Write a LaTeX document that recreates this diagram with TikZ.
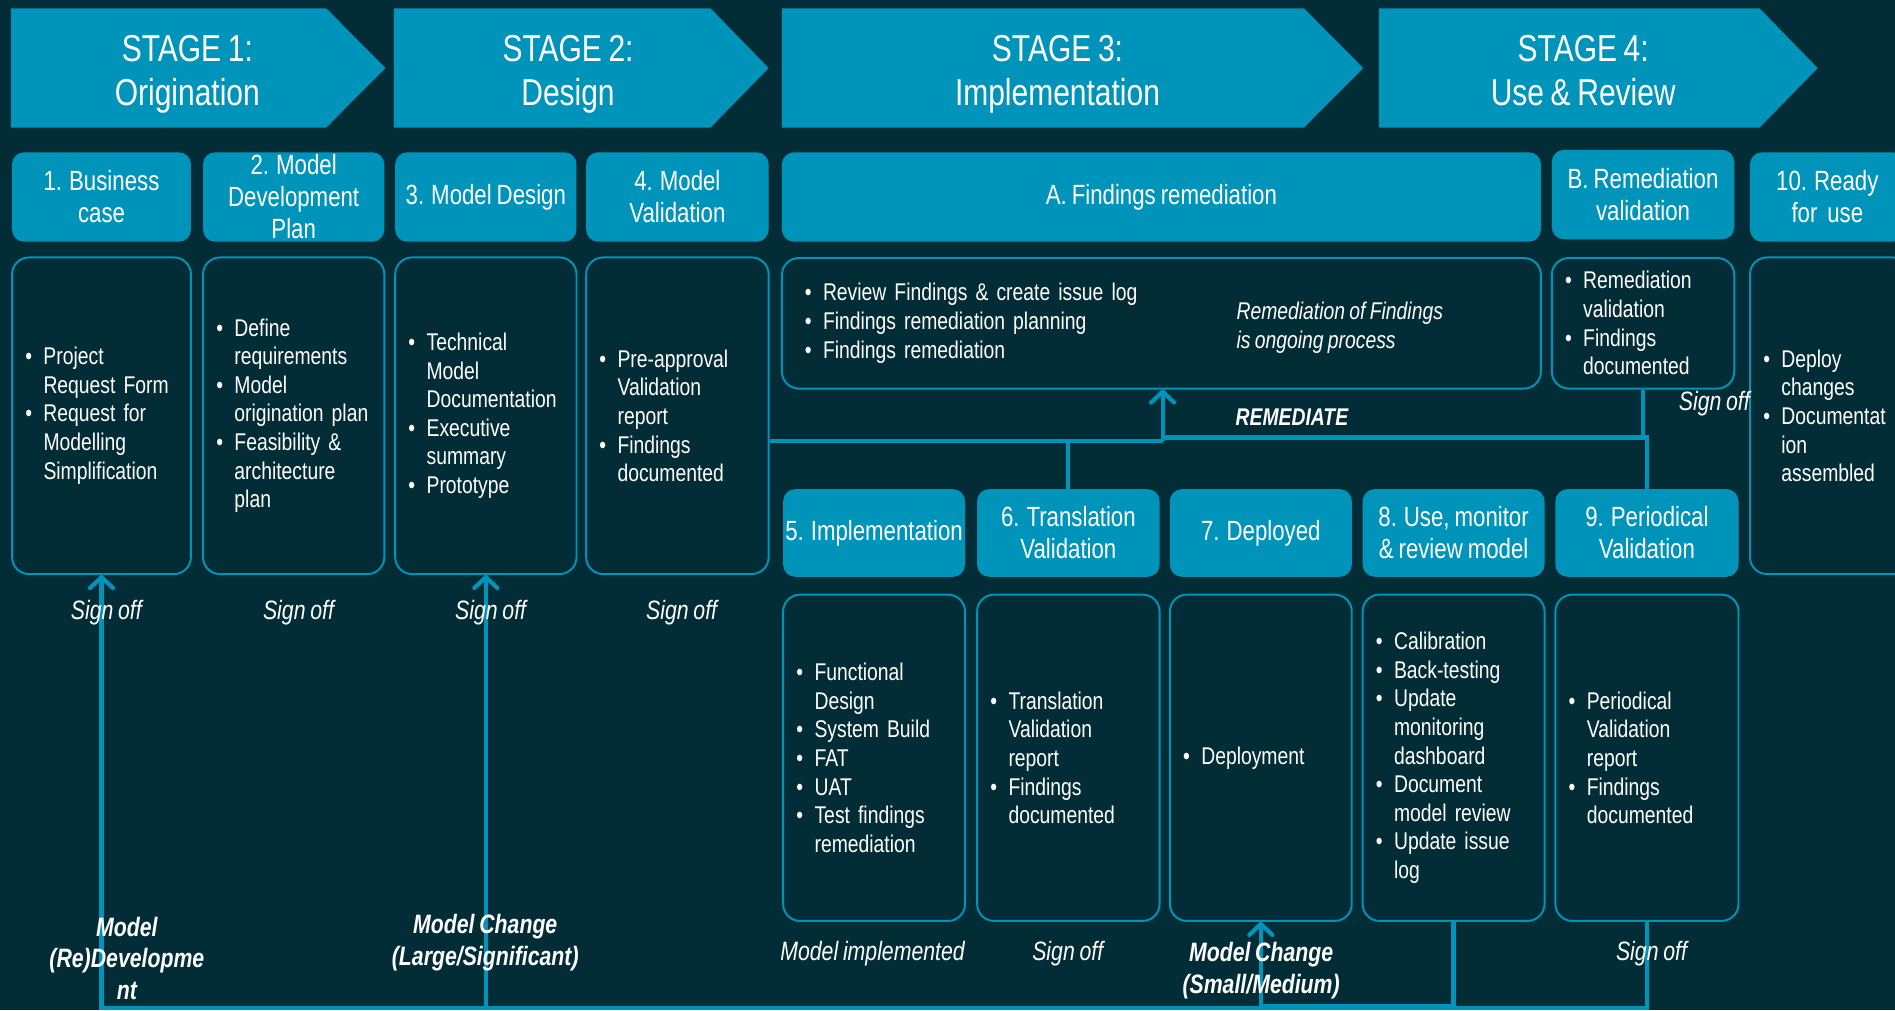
\documentclass[tikz,border=0pt]{standalone}
\usepackage{fontspec}
\setmainfont[FakeStretch=0.8, WordSpace=0.8]{Liberation Sans}
\usepackage{tikz}
\usetikzlibrary{arrows.meta}
\definecolor{bgteal}{RGB}{3,45,54}
\definecolor{stageblue}{RGB}{0,148,187}
\newcommand\stagefont{\fontsize{31}{36}\selectfont}
\newcommand\headfont{\fontsize{23}{26.5}\selectfont}
\newcommand\listfont{\fontsize{20}{23.7}\selectfont}
\newcommand\notefont{\fontsize{22}{26}\selectfont\itshape}
\newcommand\bitem{\leavevmode\makebox[15pt][l]{•}}
\newcommand\bcont{\leavevmode\hspace*{15pt}}

\begin{document}
\begin{tikzpicture}[x=1pt, y=-1pt,
    head/.style={fill=stageblue, rounded corners=10pt, text=white, font=\headfont, align=center, inner sep=0pt},
    card/.style={draw=stageblue, line width=1.6pt, rounded corners=14pt, text=white, font=\listfont, align=left, inner xsep=11pt, inner ysep=0pt},
    conn/.style={draw=stageblue, line width=3.5pt},
    upward/.style={-{Straight Barb[length=9pt,width=19pt,round]}},
    note/.style={text=white, font=\notefont, align=center, inner sep=0pt}]
            % Background
            \useasboundingbox (0,0) rectangle (1568,836);
            \fill[bgteal] (0,0) rectangle (1568,836);

            % Stage arrows
            \foreach \i/\xl/\xb/\xt/\xc/\sname in {1/9/270/319/155/Origination, 2/326/588/636/470/Design, 3/647/1079/1128/875/Implementation, 4/1141/1456/1504/1310/Use \& Review}{
                \fill[stageblue] (\xl,7) -- (\xb,7) -- (\xt,56.3) -- (\xb,105.5) -- (\xl,105.5) -- cycle;
                \node[text=white, font=\stagefont, align=center] (stage\i) at (\xc,61.5) {STAGE \i:\\\sname\vphantom{g}};
            }

            % Step headers, top row
            \node[head, minimum width=148pt, minimum height=74pt] (h1) at (84,163) {1. Business\\case};
            \node[head, minimum width=150pt, minimum height=74pt] (h2) at (243,163) {};
            \node[text=white, font=\headfont, align=center, inner sep=0pt] (h2text) at (h2.center) {2. Model\\Development\\Plan};
            \node[head, minimum width=150pt, minimum height=74pt] (h3) at (402,163) {3. Model Design};
            \node[head, minimum width=151pt, minimum height=74pt] (h4) at (560.5,163) {4. Model\\Validation};
            \node[head, minimum width=628pt, minimum height=74pt] (hA) at (961,163) {A. Findings remediation};
            \node[head, minimum width=151pt, minimum height=74pt] (hB) at (1359.5,161) {B. Remediation\\validation};
            \node[head, minimum width=128pt, minimum height=74pt] (h10) at (1512,163) {10. Ready\\for\ \ use};

            % Step contents, top row
            \node[card, minimum height=262pt, text width=126pt] (b1) at (84,344)
                {\bitem Project\\\bcont Request Form\\\bitem Request for\\\bcont Modelling\\\bcont Simplification};
            \node[card, minimum height=262pt, text width=128pt] (b2) at (243,344)
                {\bitem Define\\\bcont requirements\\\bitem Model\\\bcont origination plan\\\bitem Feasibility \&\\\bcont architecture\\\bcont plan};
            \node[card, minimum height=262pt, text width=128pt] (b3) at (402,344)
                {\bitem Technical\\\bcont Model\\\bcont Documentation\\\bitem Executive\\\bcont summary\\\bitem Prototype};
            \node[card, minimum height=262pt, text width=129pt] (b4) at (560.5,344)
                {\bitem Pre-approval\\\bcont Validation\\\bcont report\\\bitem Findings\\\bcont documented};
            \node[card, minimum height=108pt, text width=590pt, inner xsep=19pt] (bA) at (961,267.5)
                {\bitem Review Findings \& create issue log\\\bitem Findings remediation planning\\\bitem Findings remediation};
            \node[card, minimum height=108pt, text width=129pt] (bB) at (1359.5,267.5)
                {\bitem Remediation\\\bcont validation\\\bitem Findings\\\bcont documented};
            \node[card, minimum height=262pt, text width=110pt] (b10) at (1514,344)
                {\bitem Deploy\\\bcont changes\\\bitem Documentat\\\bcont ion\\\bcont assembled};

            % Step headers, lower row
            \node[head, minimum width=150.5pt, minimum height=72.5pt] (h5) at (723.25,441) {5. Implementation};
            \node[head, minimum width=151pt, minimum height=72.5pt] (h6) at (884,441) {6. Translation\\Validation};
            \node[head, minimum width=150.5pt, minimum height=72.5pt] (h7) at (1043.25,441) {7. Deployed};
            \node[head, minimum width=150.5pt, minimum height=72.5pt] (h8) at (1202.75,441) {8. Use, monitor\\\& review model};
            \node[head, minimum width=151.5pt, minimum height=72.5pt] (h9) at (1362.75,441) {9. Periodical\\Validation};

            % Step contents, lower row
            \node[card, minimum height=270pt, text width=128.5pt] (b5) at (723.25,627)
                {\bitem Functional\\\bcont Design\\\bitem System Build\\\bitem FAT\\\bitem UAT\\\bitem Test findings\\\bcont remediation};
            \node[card, minimum height=270pt, text width=129pt] (b6) at (884,627)
                {\bitem Translation\\\bcont Validation\\\bcont report\\\bitem Findings\\\bcont documented};
            \node[card, minimum height=270pt, text width=128.5pt] (b7) at (1043.25,627)
                {\bitem Deployment};
            \node[card, minimum height=270pt, text width=128.5pt] (b8) at (1202.75,627)
                {\bitem Calibration\\\bitem Back-testing\\\bitem Update\\\bcont monitoring\\\bcont dashboard\\\bitem Document\\\bcont model review\\\bitem Update issue\\\bcont log};
            \node[card, minimum height=270pt, text width=129.5pt] (b9) at (1362.75,627)
                {\bitem Periodical\\\bcont Validation\\\bcont report\\\bitem Findings\\\bcont documented};

            % Remediation loop
            \coordinate (jA) at (962,365);
            \coordinate (jR) at (962,362);
            \draw[conn] (b4.east |- jA) -- (jA);
            \draw[conn] (h6.north) |- (jA);
            \draw[conn, upward] (jA) -- (jA |- bA.south);
            \draw[conn] (h9.north) |- (jR);
            \draw[conn] (bB.south) -- (bB.south |- jR);

            % Model change loops
            \coordinate (base) at (0,834);
            \coordinate (low) at (0,832.5);
            \draw[conn, upward] (b9.south) |- (b1.south |- base) -- (b1.south);
            \draw[conn, upward] (b3.south |- base) -- (b3.south);
            \draw[conn, upward] (b8.south) |- (b7.south |- low) -- (b7.south);

            % Labels
            \node[note, font=\listfont\itshape, align=left, anchor=west] (ongoing) at (1023,271) {Remediation of Findings\\is ongoing process};
            \node[note, font=\fontsize{20}{24}\selectfont\bfseries\itshape] (remediate) at (1069,345) {REMEDIATE};
            \node[note] (signoffB) at (1418.5,334) {Sign off};
            \node[note] (signoff1) at (88,507) {Sign off};
            \node[note] (signoff2) at (247,507) {Sign off};
            \node[note] (signoff3) at (406,507) {Sign off};
            \node[note] (signoff4) at (564,507) {Sign off};

            \node[note, font=\notefont\bfseries] (redev) at (105,793) {Model\\(Re)Developme\\nt};
            \node[note, font=\notefont\bfseries] (large) at (401.5,780) {Model Change\\(Large/Significant)};
            \node[note] (implemented) at (722,789) {Model implemented};
            \node[note] (signoff6) at (883.5,789) {Sign off};
            \node[note, font=\notefont\bfseries] (small) at (1043.5,803) {Model Change\\(Small/Medium)};
            \node[note] (signoff9) at (1366.5,789) {Sign off};
        \end{tikzpicture}
\end{document}
